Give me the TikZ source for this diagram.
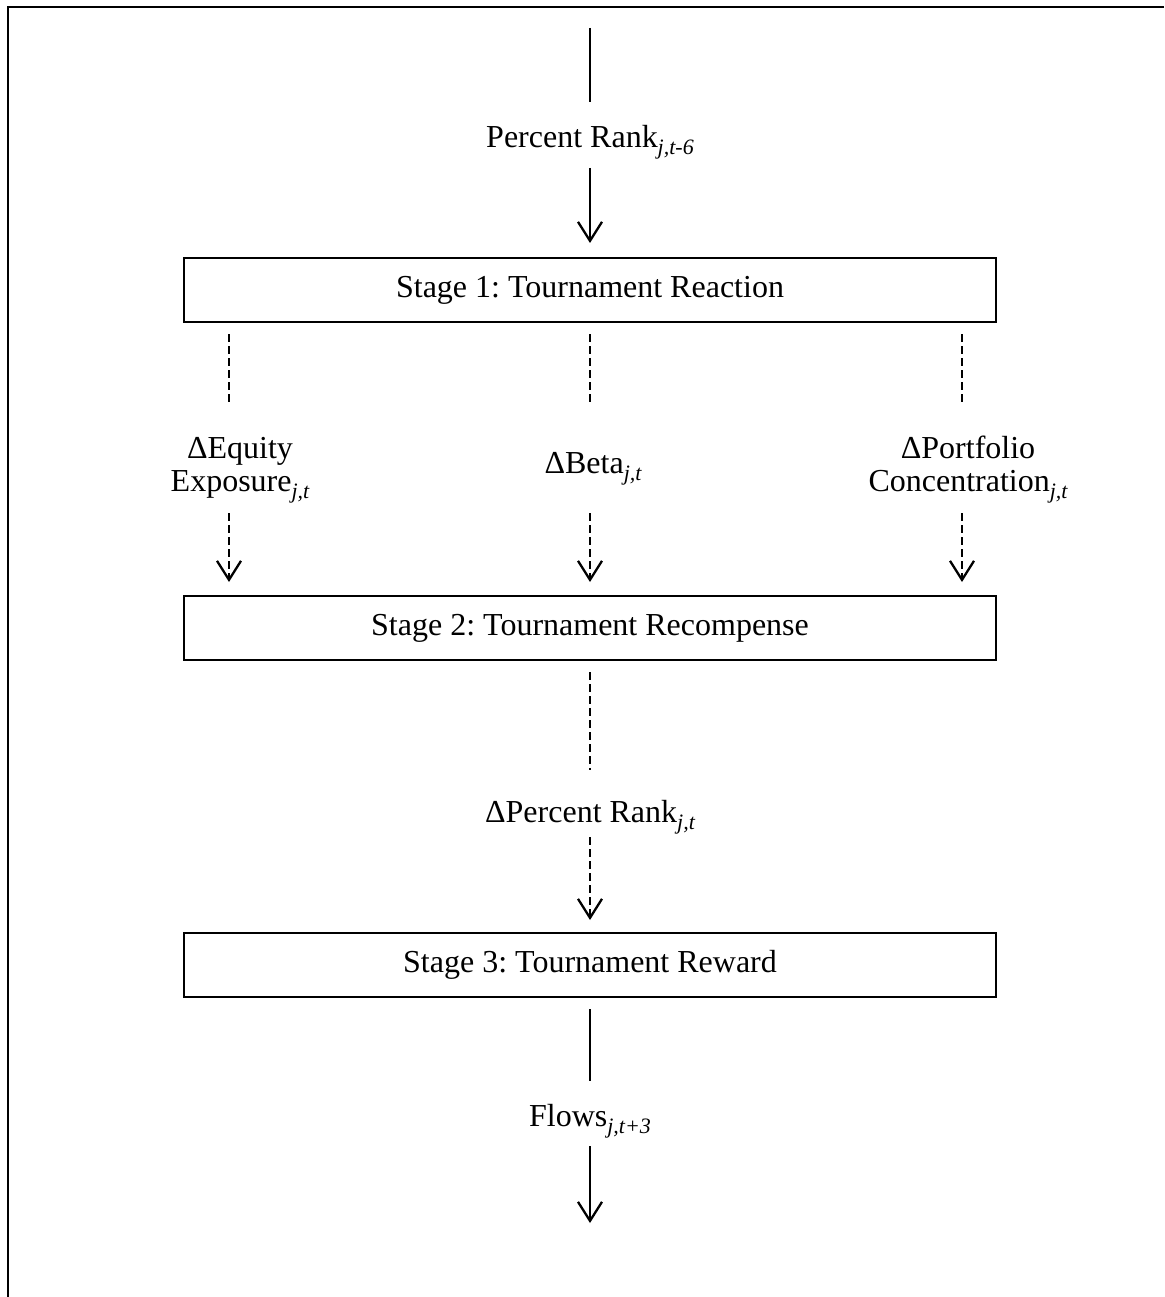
\documentclass[tikz,border=0pt]{standalone}
\usepackage{fontspec}
\setmainfont{Liberation Serif}
\usetikzlibrary{arrows.meta}
\frenchspacing
\newcommand\sbs[1]{\raisebox{-7pt}{\fontsize{22}{22}\selectfont\itshape #1}}
\tikzset{
  txt/.style={font=\fontsize{32}{33}\selectfont, align=center, inner sep=0pt},
  stagebox/.style={draw, line width=2.4pt, minimum width=812pt, minimum height=64pt, inner sep=0pt, font=\fontsize{32}{34}\selectfont},
  solidline/.style={line width=2.3pt},
  dashline/.style={line width=2.3pt, dash pattern=on 8pt off 4pt},
  tip/.style={-{Straight Barb[length=19pt,width=24pt,line width=2.3pt]}},
  frame/.style={line width=2.5pt}
}
\begin{document}
\begin{tikzpicture}[x=1pt,y=-1pt]
\useasboundingbox (0,0) rectangle (1164,1297);
\draw[frame] (1164,7) -- (8,7) -- (8,1297);

% nodes
\node[stagebox] (s1) at (590,290) {Stage 1: Tournament Reaction};
\node[stagebox] (s2) at (590,628) {Stage 2: Tournament Recompense};
\node[stagebox] (s3) at (590,965) {Stage 3: Tournament Reward};

\node[txt, anchor=base] (pr) at (590,148) {Percent Rank\sbs{j,t-6}};
\node[txt, anchor=base] (eq) at (240,491) {ΔEquity\\Exposure\sbs{j,t}};
\node[txt, anchor=base] (beta) at (593,473) {ΔBeta\sbs{j,t}};
\node[txt, anchor=base] (pc) at (968,491) {ΔPortfolio\\Concentration\sbs{j,t}};
\node[txt, anchor=base] (dpr) at (590,822) {ΔPercent Rank\sbs{j,t}};
\node[txt, anchor=base] (fl) at (590,1126) {Flows\sbs{j,t+3}};

% connector end points
\coordinate (a0) at (590,28);
\coordinate (a1) at (590,102);
\coordinate (a2) at (590,168);
\coordinate (a3) at (590,243);

\coordinate (e0) at (229,334);
\coordinate (e1) at (229,405);
\coordinate (e2) at (229,513);
\coordinate (e3) at (229,582);
\coordinate (b0) at (590,334);
\coordinate (b1) at (590,405);
\coordinate (b2) at (590,513);
\coordinate (b3) at (590,582);
\coordinate (p0) at (962,334);
\coordinate (p1) at (962,405);
\coordinate (p2) at (962,513);
\coordinate (p3) at (962,582);

\coordinate (d0) at (590,672);
\coordinate (d1) at (590,770);
\coordinate (d2) at (590,837);
\coordinate (d3) at (590,920);

\coordinate (f0) at (590,1009);
\coordinate (f1) at (590,1081);
\coordinate (f2) at (590,1146);
\coordinate (f3) at (590,1223);

% connectors
\draw[solidline] (a0) -- (a1);
\draw[solidline, tip] (a2) -- (a3);

\draw[dashline] (e0) -- (e1);
\draw[dashline, tip] (e2) -- (e3);
\draw[dashline] (b0) -- (b1);
\draw[dashline, tip] (b2) -- (b3);
\draw[dashline] (p0) -- (p1);
\draw[dashline, tip] (p2) -- (p3);

\draw[dashline] (d0) -- (d1);
\draw[dashline, tip] (d2) -- (d3);

\draw[solidline] (f0) -- (f1);
\draw[solidline, tip] (f2) -- (f3);
\end{tikzpicture}
\end{document}
